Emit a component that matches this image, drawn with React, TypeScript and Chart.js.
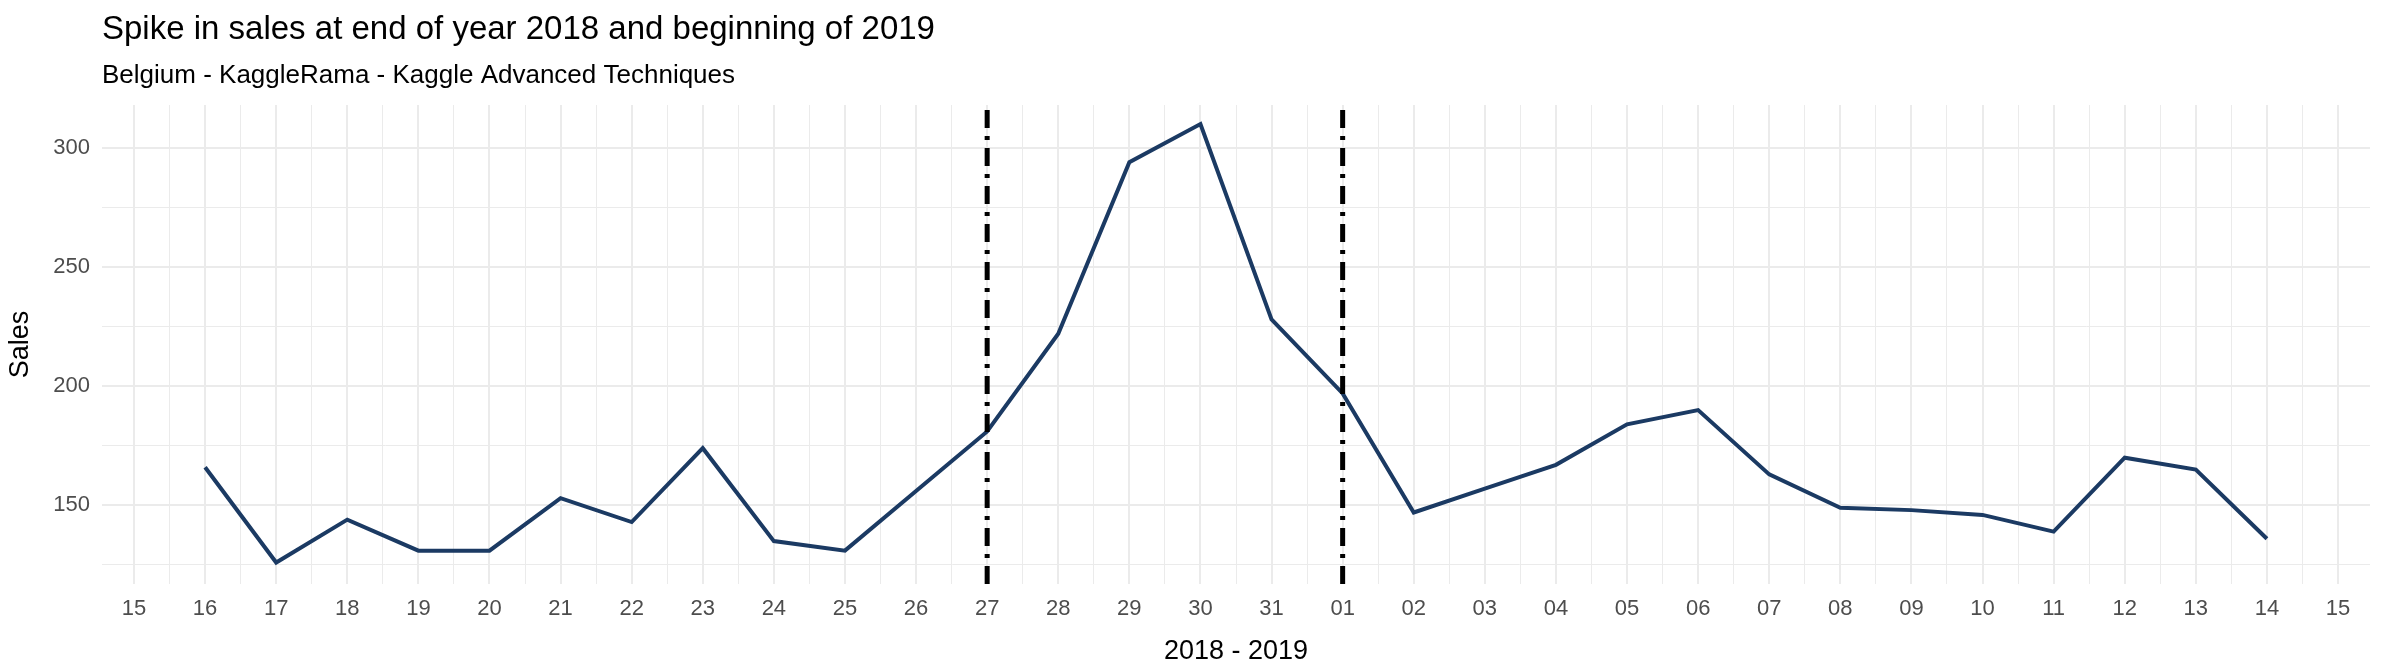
import React, { useEffect, useRef } from 'react';
import { Chart, registerables } from 'chart.js';

Chart.register(...registerables);

// day labels along the x axis (15 Dec 2018 .. 15 Jan 2019)
const DAY_LABELS = [
  '15', '16', '17', '18', '19', '20', '21', '22', '23', '24', '25', '26', '27', '28', '29', '30', '31',
  '01', '02', '03', '04', '05', '06', '07', '08', '09', '10', '11', '12', '13', '14', '15',
];
// sales from day 16 to day 14 (index 1 .. 30)
const SALES = [
  166, 126, 144, 131, 131, 153, 143, 174, 135, 131, 156, 181, 222, 294, 310, 228,
  197, 147, 157, 167, 184, 190, 163, 149, 148, 146, 139, 170, 165, 136,
];
const Y_TICKS = [125, 150, 175, 200, 225, 250, 275, 300];
const MARKED_DAYS = ['27', '01'];
const Y_MIN = 117;
const Y_MAX = 318;

const FONT = 'Liberation Sans, Arial, sans-serif';

const titlePlugin = {
  id: 'ggTitle',
  afterDraw(chart: Chart) {
    const { ctx, chartArea } = chart;
    ctx.save();
    ctx.fillStyle = '#000';
    ctx.textBaseline = 'middle';
    ctx.font = `33px ${FONT}`;
    ctx.fillText('Spike in sales at end of year 2018 and beginning of 2019', chartArea.left, 30);
    ctx.font = `26px ${FONT}`;
    ctx.fillText('Belgium - KaggleRama - Kaggle Advanced Techniques', chartArea.left, 76);
    ctx.restore();
  },
};

const App: React.FC = () => {
  const canvasRef = useRef<HTMLCanvasElement>(null);

  useEffect(() => {
    document.body.style.margin = '0';
    if (!canvasRef.current) return;
    const salesPoints = SALES.map((v, i) => ({ x: i + 1, y: v }));
    const markers = MARKED_DAYS.map((d) => {
      const x = DAY_LABELS.indexOf(d, 1);
      return {
        type: 'line' as const,
        data: [{ x, y: Y_MIN }, { x, y: Y_MAX }],
        borderColor: '#000',
        borderWidth: 5,
        borderDash: [18, 8, 4, 8],
        pointRadius: 0,
      };
    });
    const chart = new Chart(canvasRef.current, {
      type: 'line',
      data: {
        datasets: [
          ...markers,
          {
            data: salesPoints,
            borderColor: '#1b3a63',
            borderWidth: 4,
            pointRadius: 0,
            tension: 0,
          },
        ],
      },
      options: {
        animation: false,
        responsive: false,
        layout: { padding: { top: 105, right: 30, left: 0, bottom: 0 } },
        plugins: { legend: { display: false }, tooltip: { enabled: false } },
        scales: {
          x: {
            type: 'linear',
            min: -0.45,
            max: DAY_LABELS.length - 1 + 0.45,
            afterBuildTicks: (s: any) => {
              s.ticks = [];
              for (let v = 0; v <= (DAY_LABELS.length - 1) * 2; v++) s.ticks.push({ value: v / 2 });
            },
            afterFit: (s: any) => { s.height = 88; },
            grid: {
              color: '#ebebeb',
              lineWidth: (c: any) => (Number.isInteger(c.tick?.value) ? 2 : 1),
              drawTicks: false,
            },
            border: { display: false },
            ticks: {
              autoSkip: false,
              maxRotation: 0,
              padding: 12,
              color: '#4d4d4d',
              font: { family: FONT, size: 22 },
              callback: (v: any) => (Number.isInteger(v) ? DAY_LABELS[v] : ''),
            },
            title: {
              display: true,
              text: '2018 - 2019',
              color: '#000',
              font: { family: FONT, size: 27 },
              padding: { top: 2 },
            },
          },
          y: {
            min: Y_MIN,
            max: Y_MAX,
            afterBuildTicks: (s: any) => {
              const t: { value: number }[] = [];
              Y_TICKS.forEach((v) => t.push({ value: v }));
              s.ticks = t;
            },
            afterFit: (s: any) => { s.width = 102; },
            grid: {
              color: '#ebebeb',
              lineWidth: (c: any) => (c.tick && c.tick.value % 50 === 0 ? 2 : 1),
              drawTicks: false,
            },
            border: { display: false },
            ticks: {
              padding: 12,
              color: '#4d4d4d',
              font: { family: FONT, size: 22 },
              callback: (v: any) => (v % 50 === 0 ? String(v) : ''),
            },
            title: {
              display: true,
              text: 'Sales',
              color: '#000',
              font: { family: FONT, size: 27 },
              padding: { bottom: 0 },
            },
          },
        },
      },
      plugins: [titlePlugin],
    });
    return () => chart.destroy();
  }, []);

  return (
    <div style={{ width: 2400, height: 672, background: '#fff' }}>
      <canvas ref={canvasRef} width={2400} height={672} />
    </div>
  );
};

export default App;
